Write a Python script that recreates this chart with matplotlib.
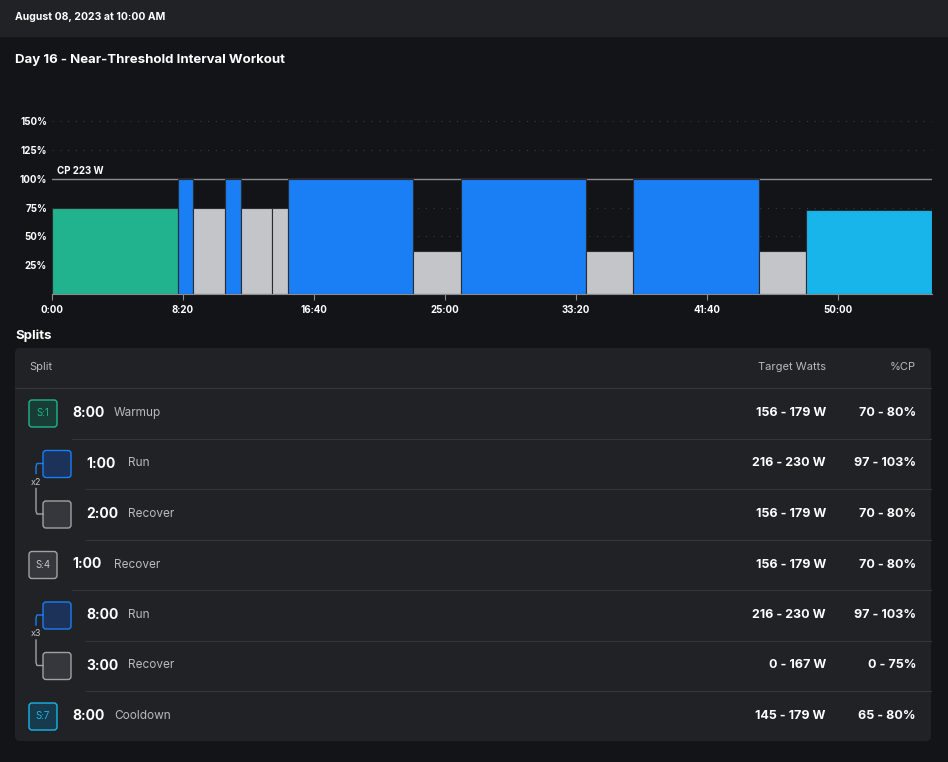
import matplotlib.pyplot as plt
from matplotlib.patches import FancyBboxPatch, Rectangle
import numpy as np

plt.rcParams['font.family'] = ['Inter', 'DejaVu Sans']

# Segment data (minutes, % of CP)
seg_dur = [8, 1, 2, 1, 2, 1, 8, 3, 8, 3, 8, 3, 8]
seg_pct = [75, 100, 75, 100, 75, 75, 100, 37.5, 100, 37.5, 100, 37.5, 72.5]
seg_kind = ['warm', 'run', 'rec', 'run', 'rec', 'rec', 'run', 'rec', 'run', 'rec', 'run', 'rec', 'cool']
colors = {'warm': '#20b38e', 'run': '#1a7ef5', 'rec': '#c4c5c8', 'cool': '#17b5ea'}
x_ticks_sec = [0, 500, 1000, 1500, 2000, 2500, 3000]
x_tick_labels = ['0:00', '8:20', '16:40', '25:00', '33:20', '41:40', '50:00']
y_ticks = [25, 50, 75, 100, 125, 150]

# Splits table
rows = [
    ('S:1', '8:00', 'Warmup', '156 - 179 W', '70 - 80%', 'warm', False),
    ('', '1:00', 'Run', '216 - 230 W', '97 - 103%', 'run', True),
    ('', '2:00', 'Recover', '156 - 179 W', '70 - 80%', 'rec', True),
    ('S:4', '1:00', 'Recover', '156 - 179 W', '70 - 80%', 'rec', False),
    ('', '8:00', 'Run', '216 - 230 W', '97 - 103%', 'run', True),
    ('', '3:00', 'Recover', '0 - 167 W', '0 - 75%', 'rec', True),
    ('S:7', '8:00', 'Cooldown', '145 - 179 W', '65 - 80%', 'cool', False),
]
repeats = [(1, 'x2'), (4, 'x3')]

BG = '#131417'
PANEL = '#202226'
W, H = 948, 762
fig = plt.figure(figsize=(W / 100, H / 100), dpi=100, facecolor=BG)

# overlay in pixel coords
ov = fig.add_axes([0, 0, 1, 1])
ov.set_xlim(0, W)
ov.set_ylim(H, 0)
ov.axis('off')
ov.add_patch(Rectangle((0, 0), W, 36, color=PANEL))
ov.text(15, 17, 'August 08, 2023 at 10:00 AM', color='white', fontsize=7.5, weight='bold', va='center')
ov.text(15, 60, 'Day 16 - Near-Threshold Interval Workout', color='white', fontsize=9.5, weight='bold', va='center')
ov.text(15, 336, 'Splits', color='white', fontsize=9.5, weight='bold', va='center')

# chart
ax = fig.add_axes([52 / W, (H - 294) / H, 880 / W, (294 - 121) / H])
ax.set_facecolor(BG)
starts = np.concatenate([[0], np.cumsum(seg_dur)[:-1]]) * 60
for s, d, p, k in zip(starts, seg_dur, seg_pct, seg_kind):
    ax.bar(s, p, width=d * 60, align='edge', color=colors[k], edgecolor='#2a2c30', linewidth=0.8)
for y in y_ticks:
    if y == 100:
        ax.axhline(y, color='#8a8c90', lw=1, zorder=0)
    else:
        ax.axhline(y, color='#3a3c40', lw=0.8, ls=(0, (1, 6)), zorder=0)
ax.set_xlim(0, sum(seg_dur) * 60)
ax.set_ylim(0, 150)
ax.set_xticks(x_ticks_sec, x_tick_labels)
ax.set_yticks(y_ticks, [f'{v}%' for v in y_ticks])
ax.tick_params(colors='white', labelsize=7, length=0)
ax.tick_params(axis='x', length=4, color='#8a8c90', pad=4)
for lbl in ax.get_xticklabels() + ax.get_yticklabels():
    lbl.set_fontweight('bold')
for sp in ['top', 'right', 'left']:
    ax.spines[sp].set_visible(False)
ax.spines['bottom'].set_color('#8a8c90')
ax.text(0.006, 104, 'CP 223 W', color='white', fontsize=7, weight='bold',
        transform=ax.get_yaxis_transform())

# table
ov.add_patch(FancyBboxPatch((15, 348), 916, 393, boxstyle='round,pad=0,rounding_size=5',
                            fc=PANEL, ec='none'))
ov.text(29, 367, 'Split', color='#b8bac0', fontsize=8, va='center')
ov.text(826, 367, 'Target Watts', color='#b8bac0', fontsize=8, va='center', ha='right')
ov.text(916, 367, '%CP', color='#b8bac0', fontsize=8, va='center', ha='right')
ov.plot([15, 931], [388, 388], color='#33363b', lw=0.8)

fills = {'warm': '#173d36', 'run': '#1c3258', 'rec': '#35373c', 'cool': '#173a4c'}
row_y = [413 + 50.5 * i for i in range(len(rows))]
for i, (tag, dur, name, watts, pct, kind, nested) in enumerate(rows):
    yc = row_y[i]
    bx = 43 if nested else 29
    ov.add_patch(FancyBboxPatch((bx, yc - 13), 28, 27, boxstyle='round,pad=0,rounding_size=3',
                                fc=fills[kind], ec=colors[kind] if kind != 'rec' else '#a0a2a6', lw=1))
    if tag:
        ov.text(bx + 14, yc, tag, color=colors[kind] if kind != 'rec' else '#c4c5c8',
                fontsize=7, ha='center', va='center')
    tx = bx + 43
    ov.text(tx, yc, dur, color='white', fontsize=10, weight='bold', va='center')
    ov.text(tx + 42, yc, name, color='#b8bac0', fontsize=8.5, va='center')
    ov.text(826, yc, watts, color='white', fontsize=9, weight='bold', va='center', ha='right')
    ov.text(916, yc, pct, color='white', fontsize=9, weight='bold', va='center', ha='right')
    if i < len(rows) - 1:
        lx = 86 if nested else 72
        ov.plot([lx, 931], [yc + 25.5, yc + 25.5], color='#33363b', lw=0.8)

for r, lab in repeats:
    y1, y2 = row_y[r], row_y[r + 1]
    ov.plot([43, 37, 36, 36], [y1, y1, y1 + 3, y1 + 10], color='#1a7ef5', lw=1)
    ov.plot([36, 36, 37, 43], [y1 + 25, y2 - 3, y2, y2], color='#a0a2a6', lw=1)
    ov.text(36, y1 + 19, lab, color='#c4c5c8', fontsize=6.5, ha='center', va='center')

fig.savefig('out.png', dpi=100, facecolor=BG)
